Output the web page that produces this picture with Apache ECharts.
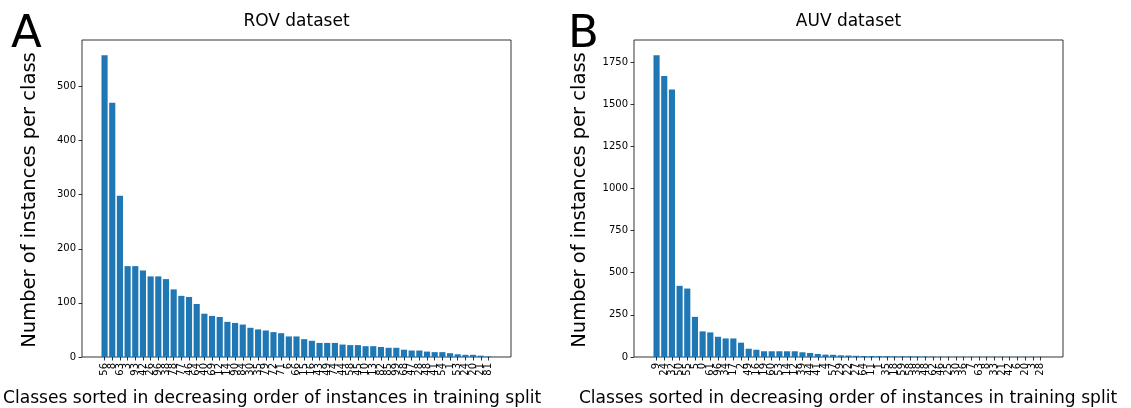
<!DOCTYPE html>
<html>
<head>
<meta charset="utf-8">
<script src="https://cdn.jsdelivr.net/npm/echarts@6/dist/echarts.min.js"></script>
<style>
html,body{margin:0;padding:0;background:#fff;}
#c{width:1131px;height:408px;}
</style>
</head>
<body>
<div id="c"></div>
<script>
const rovLabels = ["56","8","63","3","93","42","26","96","38","78","77","46","64","40","69","12","14","90","84","30","35","79","72","71","6","66","15","16","43","49","74","44","58","45","10","13","82","85","99","68","47","28","48","41","54","1","53","24","20","21","81"];
const rovValues = [558,470,298,168,168,160,149,149,144,125,113,111,98,80,76,74,65,63,60,54,51,49,46,44,38,38,33,30,26,26,26,23,22,22,20,20,18.5,17,17,13.5,12,12,10,9,9,7,5,4,4,2.5,1];
const auvLabels = ["9","24","32","50","55","5","0","61","96","34","17","2","49","16","19","60","53","14","12","39","44","41","4","57","29","22","27","64","11","1","35","18","59","58","38","48","62","46","25","30","36","7","63","8","33","21","42","6","20","3","28"];
const auvValues = [1790,1666,1587,422,406,238,152,146,120,110,110,85,49,43,34,34,34,34,34,28,24,18,14,13,10,9,7,6,6,5,5,4,4,4,3,3,2,1,1,1,1,1,1,1,1,1,1,1,1,1,1];
const rovTicks = {max:586, interval:100};
const auvTicks = {max:1880, interval:250};

const chart = echarts.init(document.getElementById('c'), null, {renderer:'canvas'});
const FONT = 'DejaVu Sans';
const ink = '#000';

function xAx(gi, labels){
  return {type:'category', gridIndex:gi, data:labels,
    axisLine:{show:false},
    axisTick:{show:true, alignWithLabel:true, length:3.5, lineStyle:{color:ink, width:0.8}},
    axisLabel:{interval:0, rotate:90, fontSize:10, fontFamily:FONT, color:ink, margin:6},
    splitLine:{show:false}};
}
function yAx(gi, t){
  return {type:'value', gridIndex:gi, min:0, max:t.max, interval:t.interval, offset:18.73,
    axisLine:{show:false},
    axisTick:{show:true, length:3.5, lineStyle:{color:ink, width:0.8}},
    axisLabel:{fontSize:10, fontFamily:FONT, color:ink, margin:6, showMaxLabel:false,
      formatter:function(v){return String(v);}},
    splitLine:{show:false}};
}
function txt(s, size, x, y, rot, align, valign){
  return {type:'text', position:[x,y], rotation:rot||0,
    style:{text:s, font:size+'px "DejaVu Sans"', fill:ink, textAlign:align||'center', textVerticalAlign:valign||'middle'}};
}

const option = {
  animation:false,
  backgroundColor:'#fff',
  grid:[
    {left:100.73, right:638.73, top:40, bottom:51},
    {left:652.73, right:86.73, top:40, bottom:51},
    {left:82, right:620, top:40, bottom:51, show:true, borderColor:ink, borderWidth:0.8, backgroundColor:'transparent'},
    {left:634, right:68, top:40, bottom:51, show:true, borderColor:ink, borderWidth:0.8, backgroundColor:'transparent'}
  ],
  xAxis:[xAx(0, rovLabels), xAx(1, auvLabels),
    {type:'value', gridIndex:2, show:false}, {type:'value', gridIndex:3, show:false}],
  yAxis:[yAx(0, rovTicks), yAx(1, auvTicks),
    {type:'value', gridIndex:2, show:false}, {type:'value', gridIndex:3, show:false}],
  series:[
    {type:'bar', xAxisIndex:0, yAxisIndex:0, data:rovValues, barCategoryGap:'20%', itemStyle:{color:'#1f77b4'}},
    {type:'bar', xAxisIndex:1, yAxisIndex:1, data:auvValues, barCategoryGap:'20%', itemStyle:{color:'#1f77b4'}}
  ],
  graphic:[
    txt('ROV dataset', 17, 296.5, 22),
    txt('AUV dataset', 17, 848.5, 22),
    txt('A', 45, 11, 13, 0, 'left', 'top'),
    txt('B', 45, 568, 13, 0, 'left', 'top'),
    txt('Number of instances per class', 19.5, 30, 200, Math.PI/2),
    txt('Number of instances per class', 19.5, 580, 200, Math.PI/2),
    txt('Classes sorted in decreasing order of instances in training split', 17.1, 3, 399, 0, 'left'),
    txt('Classes sorted in decreasing order of instances in training split', 17.1, 848, 399)
  ]
};
chart.setOption(option);
</script>
</body>
</html>
